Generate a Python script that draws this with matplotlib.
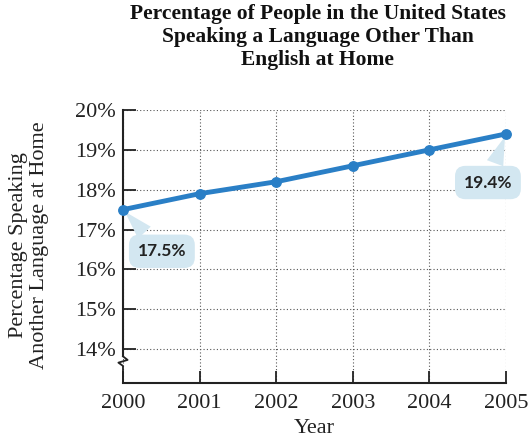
import matplotlib
matplotlib.use('Agg')
import matplotlib.pyplot as plt

years = [2000, 2001, 2002, 2003, 2004, 2005]
pct = [17.5, 17.9, 18.2, 18.6, 19.0, 19.4]
yticks = [14, 15, 16, 17, 18, 19, 20]

line_c = '#2a7fc6'
box_c = '#d3e7f1'
serif = 'Liberation Serif'

fig = plt.figure(figsize=(5.29, 4.37), dpi=100)
ax = fig.add_axes([0.2325, 0.1236, 0.724, 0.6247])

ax.plot(years, pct, color=line_c, lw=3.5, marker='o', ms=6.8, clip_on=False, zorder=5)

ax.set_xlim(2000, 2005)
ax.set_ylim(13.15, 20)
ax.set_xticks(years)
ax.set_yticks(yticks)
ax.set_yticklabels([f'{t}%' for t in yticks])
ax.grid(True, ls=(0, (1, 2)), color='#555555', lw=0.8)
ax.tick_params(direction='in', length=9, width=1.3, color='#222222',
               labelsize=16, pad=5)
ax.tick_params(axis='x', pad=8)
for lab in ax.get_xticklabels() + ax.get_yticklabels():
    lab.set_family(serif)
    lab.set_color('#222222')

for s in ['top', 'right', 'left']:
    ax.spines[s].set_visible(False)
ax.spines['bottom'].set_linewidth(1.5)
ax.spines['bottom'].set_color('#222222')

# left spine with axis break
tr = ax.transAxes
b0 = (369 - 352) / 272
ax.plot([0, 0], [b0 + 0.035, 1], color='#222222', lw=1.5, transform=tr, clip_on=False)
ax.plot([0, 0.012, -0.012, 0, 0], [b0 + 0.035, b0 + 0.022, b0 + 0.012, b0, 0],
        color='#222222', lw=1.3, transform=tr, clip_on=False)

ax.set_xlabel('Year', family=serif, fontsize=16, color='#222222', labelpad=4)
fig.text(0.055, 0.44, 'Percentage Speaking\nAnother Language at Home', family=serif,
         fontsize=16, color='#222222', rotation=90, ha='center', va='center',
         linespacing=1.2)

fig.text(0.601, 0.99, 'Percentage of People in the United States\nSpeaking a Language Other Than\nEnglish at Home',
         family=serif, fontweight='bold', fontsize=15.5, ha='center', va='top',
         linespacing=1.2, color='#111111')

bbox = dict(boxstyle='round,pad=0.5,rounding_size=0.6', fc=box_c, ec='none')
arrow = dict(arrowstyle='wedge,tail_width=1.0,shrink_factor=0.5', fc=box_c, ec='none')
ax.annotate(f'{pct[0]}%', xy=(years[0], pct[0]), xytext=(28, -30), textcoords='offset points',
            ha='center', va='center', fontsize=12.5, fontweight='bold', family='Lato',
            color='#222222', bbox=bbox, arrowprops=arrow, zorder=4)
ax.annotate(f'{pct[-1]}%', xy=(years[-1], pct[-1]), xytext=(-13, -35), textcoords='offset points',
            ha='center', va='center', fontsize=12.5, fontweight='bold', family='Lato',
            color='#222222', bbox=bbox, arrowprops=arrow, annotation_clip=False, zorder=4)

fig.savefig('out.png', dpi=100)
